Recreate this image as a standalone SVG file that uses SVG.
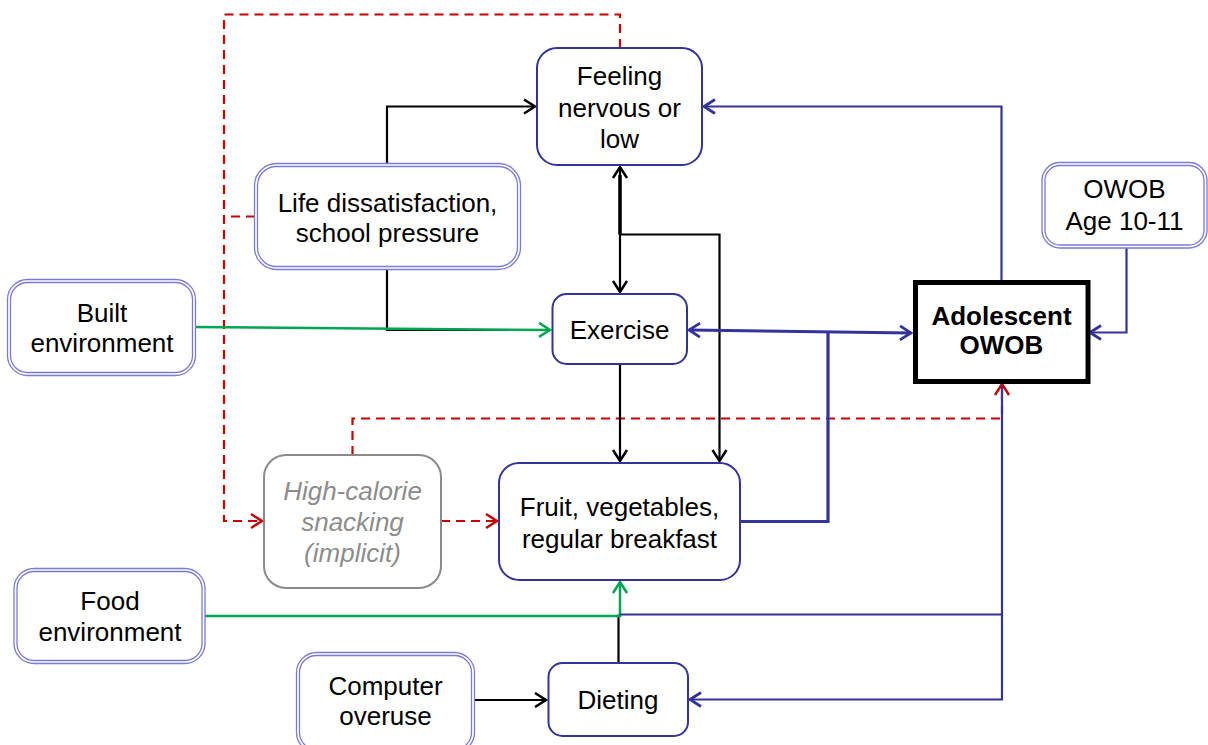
<svg xmlns="http://www.w3.org/2000/svg" width="1208" height="745" viewBox="0 0 1208 745">
<style>
.t{font-family:"Liberation Sans",Arial,sans-serif;font-size:26px;fill:#000;text-anchor:middle}
.b{font-weight:bold}
.g{fill:#8c8c8c;font-style:italic}
.nb{fill:#fff;stroke:#333399;stroke-width:2}
.dbo{fill:#fff;stroke:#7a7ad8;stroke-width:1.3}
.dbi{fill:none;stroke:#7a7ad8;stroke-width:1.3}
.gray{fill:#fff;stroke:#8a8a8a;stroke-width:2}
.c{fill:none;stroke-linejoin:miter}
.k{stroke:#000;stroke-width:2.2}
.bl{stroke:#333399;stroke-width:2.2}
.blt{stroke:#333399;stroke-width:3.2}
.r{stroke:#cc0000;stroke-width:2.2;stroke-dasharray:9 6}
.gr{stroke:#00a651;stroke-width:2.5}
</style>
<defs>
<marker id="ak" markerUnits="userSpaceOnUse" markerWidth="16" markerHeight="18" refX="13" refY="9" orient="auto-start-reverse"><path d="M2,2 L13,9 L2,16" fill="none" stroke="#000" stroke-width="2.5"/></marker>
<marker id="ab" markerUnits="userSpaceOnUse" markerWidth="16" markerHeight="18" refX="13" refY="9" orient="auto-start-reverse"><path d="M2,2 L13,9 L2,16" fill="none" stroke="#333399" stroke-width="2.8"/></marker>
<marker id="ar" markerUnits="userSpaceOnUse" markerWidth="16" markerHeight="18" refX="13" refY="9" orient="auto-start-reverse"><path d="M2,2 L13,9 L2,16" fill="none" stroke="#cc0000" stroke-width="2.5"/></marker>
<marker id="ag" markerUnits="userSpaceOnUse" markerWidth="16" markerHeight="18" refX="13" refY="9" orient="auto-start-reverse"><path d="M2,2 L13,9 L2,16" fill="none" stroke="#00a651" stroke-width="2.5"/></marker>
</defs>

<g id="connectors">
<path class="c r" d="M620,48 V14.5 H224 V521 H262" marker-end="url(#ar)"/>
<path class="c r" d="M255,216.5 H224"/>
<path class="c r" d="M352.5,455 V418.5 H1002 V384" marker-end="url(#ar)"/>
<path class="c r" d="M441,521 H497" marker-end="url(#ar)"/>
<path class="c k" d="M387,164 V106.5 H535" marker-end="url(#ak)"/>
<path class="c k" d="M387,270 V330 H548"/>
<path class="c k" d="M620,167 V292" marker-start="url(#ak)" marker-end="url(#ak)"/>
<path class="c k" style="stroke-width:3.5" d="M620,175 V234.5"/>
<path class="c k" d="M620,234.5 H719.5 V461" marker-end="url(#ak)"/>
<path class="c k" d="M620,364 V461" marker-end="url(#ak)"/>
<path class="c k" d="M618.5,663 V614.5"/>
<path class="c k" d="M474,700 H546" marker-end="url(#ak)"/>
<path class="c gr" d="M195,327 L550,330" marker-end="url(#ag)"/>
<path class="c gr" d="M205,616 H620 V582" marker-end="url(#ag)"/>
<path class="c blt" d="M689,330 L911,333" marker-start="url(#ab)" marker-end="url(#ab)"/>
<path class="c blt" d="M740,521.5 H828 V331.5"/>
<path class="c bl" d="M1001.5,281 V106.5 H704" marker-end="url(#ab)"/>
<path class="c bl" d="M1126.5,248 V332.5 H1090" marker-end="url(#ab)"/>
<path class="c bl" d="M1002,386 V699.5 H690" marker-end="url(#ab)"/>
<path class="c bl" d="M1002,614.5 H620"/>
</g>

<g id="feeling">
<rect class="nb" x="537" y="48" width="165" height="117" rx="20"/>
<text class="t" x="619.5" y="85">Feeling</text>
<text class="t" x="619.5" y="117">nervous or</text>
<text class="t" x="619.5" y="148">low</text>
</g>
<g id="life">
<rect class="dbo" x="254.5" y="163.5" width="266" height="106" rx="22"/>
<rect class="dbi" x="257.5" y="166.5" width="260" height="100" rx="19"/>
<text class="t" x="387.5" y="212">Life dissatisfaction,</text>
<text class="t" x="387.5" y="242">school pressure</text>
</g>
<g id="built">
<rect class="dbo" x="7.5" y="279.5" width="188" height="96" rx="20"/>
<rect class="dbi" x="10.5" y="282.5" width="182" height="90" rx="17"/>
<text class="t" x="102" y="322">Built</text>
<text class="t" x="102" y="352">environment</text>
</g>
<g id="exercise">
<rect class="nb" x="552.5" y="294" width="134.5" height="70" rx="14"/>
<text class="t" x="619.5" y="339">Exercise</text>
</g>
<g id="adolescent">
<rect x="915.5" y="282.5" width="172.5" height="99" fill="#fff" stroke="#000" stroke-width="5"/>
<text class="t b" x="1001.5" y="325">Adolescent</text>
<text class="t b" x="1001.5" y="354">OWOB</text>
</g>
<g id="owob1011">
<rect class="dbo" x="1042" y="162.5" width="165" height="85.5" rx="18"/>
<rect class="dbi" x="1045" y="165.5" width="159" height="79.5" rx="15"/>
<text class="t" x="1124.5" y="198">OWOB</text>
<text class="t" x="1124.5" y="230">Age 10-11</text>
</g>
<g id="snacking">
<rect class="gray" x="264" y="455" width="177" height="133" rx="22"/>
<text class="t g" x="352.5" y="500">High-calorie</text>
<text class="t g" x="352.5" y="531">snacking</text>
<text class="t g" x="352.5" y="562">(implicit)</text>
</g>
<g id="fruit">
<rect class="nb" x="499" y="463" width="241" height="117" rx="20"/>
<text class="t" x="619.5" y="516">Fruit, vegetables,</text>
<text class="t" x="619.5" y="548">regular breakfast</text>
</g>
<g id="food">
<rect class="dbo" x="14" y="568.5" width="191" height="95" rx="20"/>
<rect class="dbi" x="17" y="571.5" width="185" height="89" rx="17"/>
<text class="t" x="110" y="610">Food</text>
<text class="t" x="110" y="641">environment</text>
</g>
<g id="computer">
<rect class="dbo" x="296.5" y="652.5" width="178" height="100" rx="20"/>
<rect class="dbi" x="299.5" y="655.5" width="172" height="94" rx="17"/>
<text class="t" x="385.5" y="695">Computer</text>
<text class="t" x="385.5" y="725">overuse</text>
</g>
<g id="dieting">
<rect class="nb" x="548.5" y="663" width="139.5" height="73" rx="14"/>
<text class="t" x="618" y="709">Dieting</text>
</g>
</svg>
